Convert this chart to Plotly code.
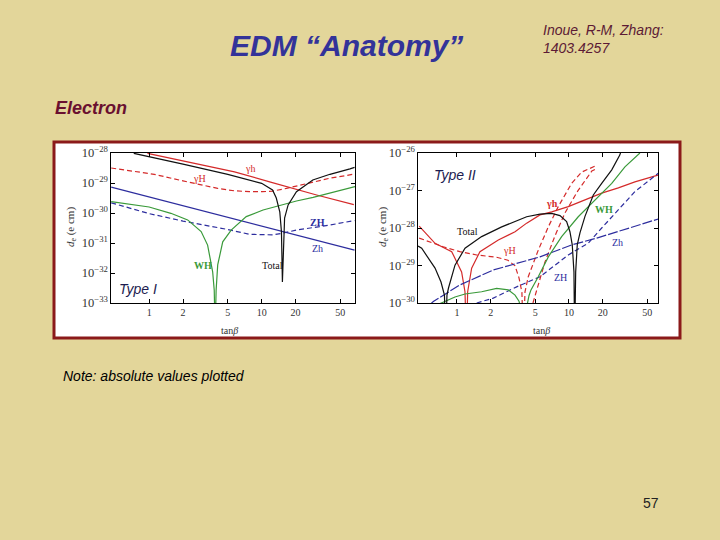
import numpy as np
import plotly.graph_objects as go

W, H = 720, 540

# ---------------- Data (tan(beta) and log10 of |d_e| in e cm) ----------------
# Type I panel
t1_gh_t = [0.966, 2.0, 5.74, 12.0, 30.8, 66.0]
t1_gh_e = [-28.01, -28.27, -28.63, -28.97, -29.40, -29.72]

t1_gH_t = [0.46, 1.11, 2.0, 4.07, 5.7, 7.8, 10.2, 12.5, 16.6, 28.5, 40.5, 67.6]
t1_gH_e = [-28.50, -28.71, -28.93, -29.18, -29.26, -29.29, -29.29, -29.27, -29.18, -28.96, -28.84, -28.70]

t1_total_t = [0.73, 1.0, 2.0, 5.0, 10.0, 12.5, 13.5, 14.5, 15.0, 15.3, 15.7, 16.0, 17.2, 20.4, 28.5, 40.5, 61.0, 67.0]
t1_total_e = [-28.01, -28.12, -28.37, -28.71, -29.01, -29.23, -29.50, -29.96, -30.62, -32.30, -30.60, -30.17, -29.73, -29.29, -28.90, -28.71, -28.53, -28.48]

t1_Zh_t = [0.46, 1.0, 2.0, 5.0, 10.0, 20.0, 50.0, 67.0]
t1_Zh_e = [-29.14, -29.47, -29.76, -30.15, -30.44, -30.73, -31.11, -31.24]

t1_ZH_t = [0.46, 1.0, 2.0, 3.1, 5.0, 7.8, 10.0, 12.6, 15.5, 20.4, 40.5, 67.0]
t1_ZH_e = [-29.66, -30.02, -30.27, -30.40, -30.55, -30.71, -30.73, -30.73, -30.67, -30.57, -30.40, -30.25]

t1_WH_t = [0.46, 0.79, 1.0, 1.56, 2.0, 2.2, 2.9, 3.31, 3.67, 3.79, 3.86, 3.94, 4.07, 4.51, 5.36, 7.3, 10.3, 20.4, 28.7, 40.5, 67.6]
t1_WH_e = [-29.62, -29.73, -29.80, -30.01, -30.18, -30.23, -30.62, -31.07, -31.96, -32.57, -34.0, -32.57, -31.73, -30.96, -30.57, -30.12, -29.90, -29.60, -29.48, -29.34, -29.12]

# Type II panel
t2_total_t = [0.449, 0.484, 0.637, 0.72, 0.773, 0.793, 0.814, 0.84, 0.96, 1.18, 1.66, 2.51, 4.19, 5.51, 7.01, 8.31, 9.53, 10.2, 10.7, 11.08, 11.24, 11.48, 11.86, 12.54, 13.9, 16.5, 19.6, 24.1, 28.5, 29.0]
t2_total_e = [-28.48, -28.54, -29.07, -29.44, -29.79, -31.0, -29.79, -29.60, -28.99, -28.54, -28.23, -27.97, -27.70, -27.63, -27.61, -27.67, -27.83, -28.10, -28.45, -29.17, -31.0, -29.17, -28.45, -28.13, -27.69, -27.12, -26.81, -26.45, -26.05, -25.97]

t2_gh_t = [0.46, 0.574, 0.637, 0.897, 1.10, 1.179, 1.216, 1.246, 1.352, 1.604, 2.34, 3.3, 4.19, 5.51, 7.01, 9.86, 13.9, 19.6, 27.6, 38.8, 62.3]
t2_gh_e = [-27.95, -28.27, -28.41, -28.63, -29.17, -29.70, -31.0, -29.70, -29.07, -28.63, -28.32, -28.10, -27.87, -27.65, -27.57, -27.43, -27.25, -27.07, -26.93, -26.77, -26.59]

t2_gH_t = [0.46, 0.755, 1.06, 1.5, 2.26, 2.85, 3.3, 3.58, 3.8, 3.91, 4.05, 4.33, 5.32, 6.54, 8.02, 10.57, 12.98, 17.1]
t2_gH_e = [-28.27, -28.50, -28.63, -28.72, -28.78, -28.86, -29.01, -29.33, -29.71, -31.0, -29.70, -29.30, -28.59, -27.97, -27.43, -26.81, -26.51, -26.35]

t2_gH2_t = [4.77, 6.1, 7.5, 9.2, 12.0, 16.0, 18.0]
t2_gH2_e = [-30.0, -28.91, -28.21, -27.60, -27.01, -26.48, -26.40]

t2_WH_t = [0.70, 0.96, 1.18, 1.66, 2.26, 2.87, 3.3, 3.58, 3.75, 3.95, 4.2, 4.4, 4.58, 5.32, 6.54, 8.6, 12.1, 17.1, 24.1, 31.6, 43.0]
t2_WH_e = [-30.02, -29.84, -29.76, -29.70, -29.61, -29.65, -29.79, -29.95, -30.20, -31.0, -30.10, -29.80, -29.65, -29.30, -28.77, -28.23, -27.70, -27.25, -26.81, -26.37, -26.0]

t2_Zh_t = [0.58, 0.615, 1.06, 2.11, 5.51, 10.6, 17.7, 30.0, 62.7]
t2_Zh_e = [-30.03, -29.96, -29.52, -29.12, -28.77, -28.45, -28.27, -28.05, -27.76]

t2_ZH_t = [1.5, 2.11, 3.41, 5.51, 9.86, 14.9, 19.6, 25.8, 38.8, 62.7]
t2_ZH_e = [-30.0, -29.87, -29.57, -29.30, -28.72, -28.40, -28.00, -27.62, -27.03, -26.54]

x_tick_vals = [1, 2, 5, 10, 20, 50]
x_tick_text = ["1", "2", "5", "10", "20", "50"]

# ---------------- Styles ----------------
RED = "#d42a2a"
BLUE = "#2d2d9e"
GREEN = "#3a9a3a"
BLACK = "#111111"
BG = "#E3D69A"
SERIF = "Liberation Serif"
SANS = "Liberation Sans"

fig = go.Figure()


def add(t, e, color, dash, xa, ya, width=1.2):
    fig.add_trace(go.Scatter(
        x=t, y=10.0 ** np.array(e), mode="lines",
        line=dict(color=color, width=width, dash=dash),
        xaxis=xa, yaxis=ya, showlegend=False, hoverinfo="skip"))


DASH = "5px,3px"
# Type I
add(t1_gh_t, t1_gh_e, RED, "solid", "x", "y")
add(t1_gH_t, t1_gH_e, RED, DASH, "x", "y")
add(t1_Zh_t, t1_Zh_e, BLUE, "solid", "x", "y")
add(t1_ZH_t, t1_ZH_e, BLUE, DASH, "x", "y")
add(t1_WH_t, t1_WH_e, GREEN, "solid", "x", "y")
add(t1_total_t, t1_total_e, BLACK, "solid", "x", "y")
# Type II
add(t2_gh_t, t2_gh_e, RED, "solid", "x2", "y2")
add(t2_gH_t, t2_gH_e, RED, DASH, "x2", "y2")
add(t2_gH2_t, t2_gH2_e, RED, DASH, "x2", "y2")
add(t2_Zh_t, t2_Zh_e, BLUE, "10px,2px", "x2", "y2")
add(t2_ZH_t, t2_ZH_e, BLUE, DASH, "x2", "y2")
add(t2_WH_t, t2_WH_e, GREEN, "solid", "x2", "y2")
add(t2_total_t, t2_total_e, BLACK, "solid", "x2", "y2")


def px(x):
    return x / W


def py(y):
    return 1 - y / H


axis_common = dict(type="log", showline=True, linecolor="black", linewidth=1,
                   mirror="ticks", ticks="inside", ticklen=4, tickcolor="black",
                   showgrid=False, zeroline=False, automargin=False,
                   tickfont=dict(family=SERIF, size=10, color="#333333"))

fig.update_layout(
    width=W, height=H, autosize=False,
    margin=dict(l=0, r=0, t=0, b=0, pad=0, autoexpand=False),
    showlegend=False,
    paper_bgcolor=BG, plot_bgcolor="white",
    xaxis=dict(domain=[px(111), px(355)], range=[-0.339, 1.830], anchor="y",
               tickvals=x_tick_vals, ticktext=x_tick_text, **axis_common),
    yaxis=dict(domain=[py(303), py(153)], range=[-33, -28], anchor="x",
               dtick=1, exponentformat="power", **axis_common),
    xaxis2=dict(domain=[px(418), px(658)], range=[-0.348, 1.795], anchor="y2",
                tickvals=x_tick_vals, ticktext=x_tick_text, **axis_common),
    yaxis2=dict(domain=[py(303), py(153)], range=[-30, -26], anchor="x2",
                dtick=1, exponentformat="power", **axis_common),
)

# White framed box behind both panels
fig.add_shape(type="rect", xref="paper", yref="paper",
              x0=px(54), x1=px(680), y0=py(338), y1=py(142),
              fillcolor="white", line=dict(color="#8B1A1A", width=3), layer="below")


def text(x, y, s, size, color="black", family=SANS, xanchor="center", **kw):
    fig.add_annotation(x=px(x), y=py(y), xref="paper", yref="paper", text=s,
                       showarrow=False, xanchor=xanchor, yanchor="middle",
                       font=dict(family=family, size=size, color=color), **kw)


# Slide texts
text(346, 46, "<b><i>EDM “Anatomy”</i></b>", 30, "#333399")
text(541, 39, "<i>Inoue, R-M, Zhang:<br>1403.4257</i>", 14, "#5c1a35", xanchor="left", align="left")
text(53, 108, "<b><i>Electron</i></b>", 18, "#6a1030", xanchor="left")
text(61, 376, "<i>Note: absolute values plotted</i>", 14, "black", xanchor="left")
text(651, 503, "57", 14, "#222222")

# Panel texts
text(138, 289, "<i>Type I</i>", 14, "#1c1c50")
text(455, 175, "<i>Type II</i>", 14, "#1c1c50")

for cx in (229, 541):
    text(cx, 330, "tan<i>β</i>", 10, "#333333", family=SERIF)
for cx in (71, 383):
    text(cx, 227, "<i>d</i><sub>e</sub> (e cm)", 11, "#333333", family=SERIF, textangle=-90)

# Curve labels, Type I
text(250, 168, "γh", 10, RED, family=SERIF)
text(199, 178, "γH", 10, RED, family=SERIF)
text(317, 222, "<b>ZH</b>", 10, BLUE, family=SERIF)
text(317, 248, "Zh", 10, BLUE, family=SERIF)
text(203, 265, "<b>WH</b>", 10, GREEN, family=SERIF)
text(272, 265, "Total", 10, BLACK, family=SERIF)
# Curve labels, Type II
text(467, 231, "Total", 10, BLACK, family=SERIF)
text(552, 203, "<b>γh</b>", 10, RED, family=SERIF)
text(509, 250, "γH", 10, RED, family=SERIF)
text(604, 210, "<b>WH</b>", 10, GREEN, family=SERIF)
text(617, 243, "Zh", 10, BLUE, family=SERIF)
text(560, 277, "ZH", 10, BLUE, family=SERIF)

fig.write_html("out.html", config={"displayModeBar": False},
               post_script="document.body.style.margin='0';document.body.style.overflow='hidden';")
